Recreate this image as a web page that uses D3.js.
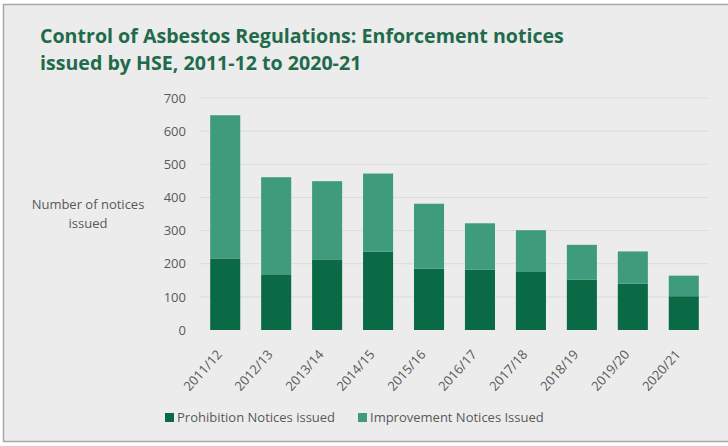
<!DOCTYPE html>
<html>
<head>
<meta charset="utf-8">
<script src="https://cdn.jsdelivr.net/npm/d3@7"></script>
<style>
  body { margin: 0; background: #fff; }
  svg { display: block; font-family: "Open Sans", sans-serif; }
</style>
</head>
<body>
<div class="chart"></div>
<script>
var years = ["2011/12", "2012/13", "2013/14", "2014/15", "2015/16",
             "2016/17", "2017/18", "2018/19", "2019/20", "2020/21"];
var prohibition = [216, 168, 213, 236, 185, 182, 175, 152, 140, 102];
var improvement = [432, 293, 236, 236, 196, 140, 126, 105, 97, 62];
var yTicks = [0, 100, 200, 300, 400, 500, 600, 700];
var seriesNames = ["Prohibition Notices issued", "Improvement Notices Issued"];
var colours = ["#0a6a46", "#3e9b7b"];

var opts = { width: 728, height: 446 };

var svg = d3.select(".chart").append("svg")
  .attr("width", opts.width)
  .attr("height", opts.height);

// frame + panel
svg.append("rect")
  .attr("x", 3.5).attr("y", 4.5)
  .attr("width", 730).attr("height", 437)
  .attr("fill", "#ececec")
  .attr("stroke", "#a9a9a9")
  .attr("stroke-width", 1.5);

// title
var title = svg.append("text")
  .attr("x", 40).attr("y", 43)
  .attr("fill", "#1f6b4b")
  .attr("font-size", 19.6)
  .attr("font-weight", "bold");
title.append("tspan").attr("x", 40).text("Control of Asbestos Regulations: Enforcement notices");
title.append("tspan").attr("x", 40).attr("dy", 27).text("issued by HSE, 2011-12 to 2020-21");

var x = d3.scaleBand()
  .domain(years)
  .range([200, 709])
  .paddingInner(0.41)
  .paddingOuter(0.2);

var y = d3.scaleLinear()
  .domain([0, 700])
  .range([330, 98]);

// gridlines
svg.append("g").selectAll("line")
  .data(yTicks.slice(1))
  .enter().append("line")
  .attr("x1", 200).attr("x2", 709)
  .attr("y1", function (d) { return y(d); })
  .attr("y2", function (d) { return y(d); })
  .attr("stroke", "#dcdcdc")
  .attr("stroke-width", 1);

// y axis labels
var yAxis = svg.append("g")
  .attr("transform", "translate(186,0)")
  .call(d3.axisLeft(y).tickValues(yTicks).tickSize(0).tickPadding(0));
yAxis.select(".domain").remove();
yAxis.selectAll("text")
  .attr("fill", "#595959")
  .attr("font-size", 13)
  .attr("font-family", "Open Sans, sans-serif");

// axis title
var yt = svg.append("text")
  .attr("text-anchor", "middle")
  .attr("fill", "#595959")
  .attr("font-size", 13);
yt.append("tspan").attr("x", 88).attr("y", 209).text("Number of notices");
yt.append("tspan").attr("x", 88).attr("y", 228).text("issued");

// stacked bars
var rows = years.map(function (yr, i) {
  return { year: yr, p: prohibition[i], imp: improvement[i] };
});
var stack = d3.stack().keys(["p", "imp"])(rows);

svg.append("g").selectAll("g")
  .data(stack)
  .enter().append("g")
  .attr("fill", function (d, i) { return colours[i]; })
  .selectAll("rect")
  .data(function (d) { return d; })
  .enter().append("rect")
  .attr("x", function (d) { return x(d.data.year); })
  .attr("y", function (d) { return y(d[1]); })
  .attr("height", function (d) { return y(d[0]) - y(d[1]); })
  .attr("width", x.bandwidth());

// x labels
var xAxis = svg.append("g")
  .attr("transform", "translate(0,334)")
  .call(d3.axisBottom(x).tickSize(0).tickPadding(0));
xAxis.select(".domain").remove();
xAxis.selectAll("text")
  .attr("fill", "#595959")
  .attr("font-size", 13)
  .attr("font-family", "Open Sans, sans-serif")
  .attr("text-anchor", "end")
  .attr("dy", "0.35em")
  .attr("transform", "translate(-6,18) rotate(-48)");

// legend
var legendX = [165, 358];
var leg = svg.append("g").selectAll("g")
  .data(seriesNames)
  .enter().append("g")
  .attr("transform", function (d, i) { return "translate(" + legendX[i] + ",417)"; });
leg.append("rect")
  .attr("x", 0).attr("y", -4)
  .attr("width", 9).attr("height", 9)
  .attr("fill", function (d, i) { return colours[i]; });
leg.append("text")
  .attr("x", 12).attr("y", 5)
  .attr("fill", "#595959")
  .attr("font-size", 13)
  .text(function (d) { return d; });
</script>
</body>
</html>
